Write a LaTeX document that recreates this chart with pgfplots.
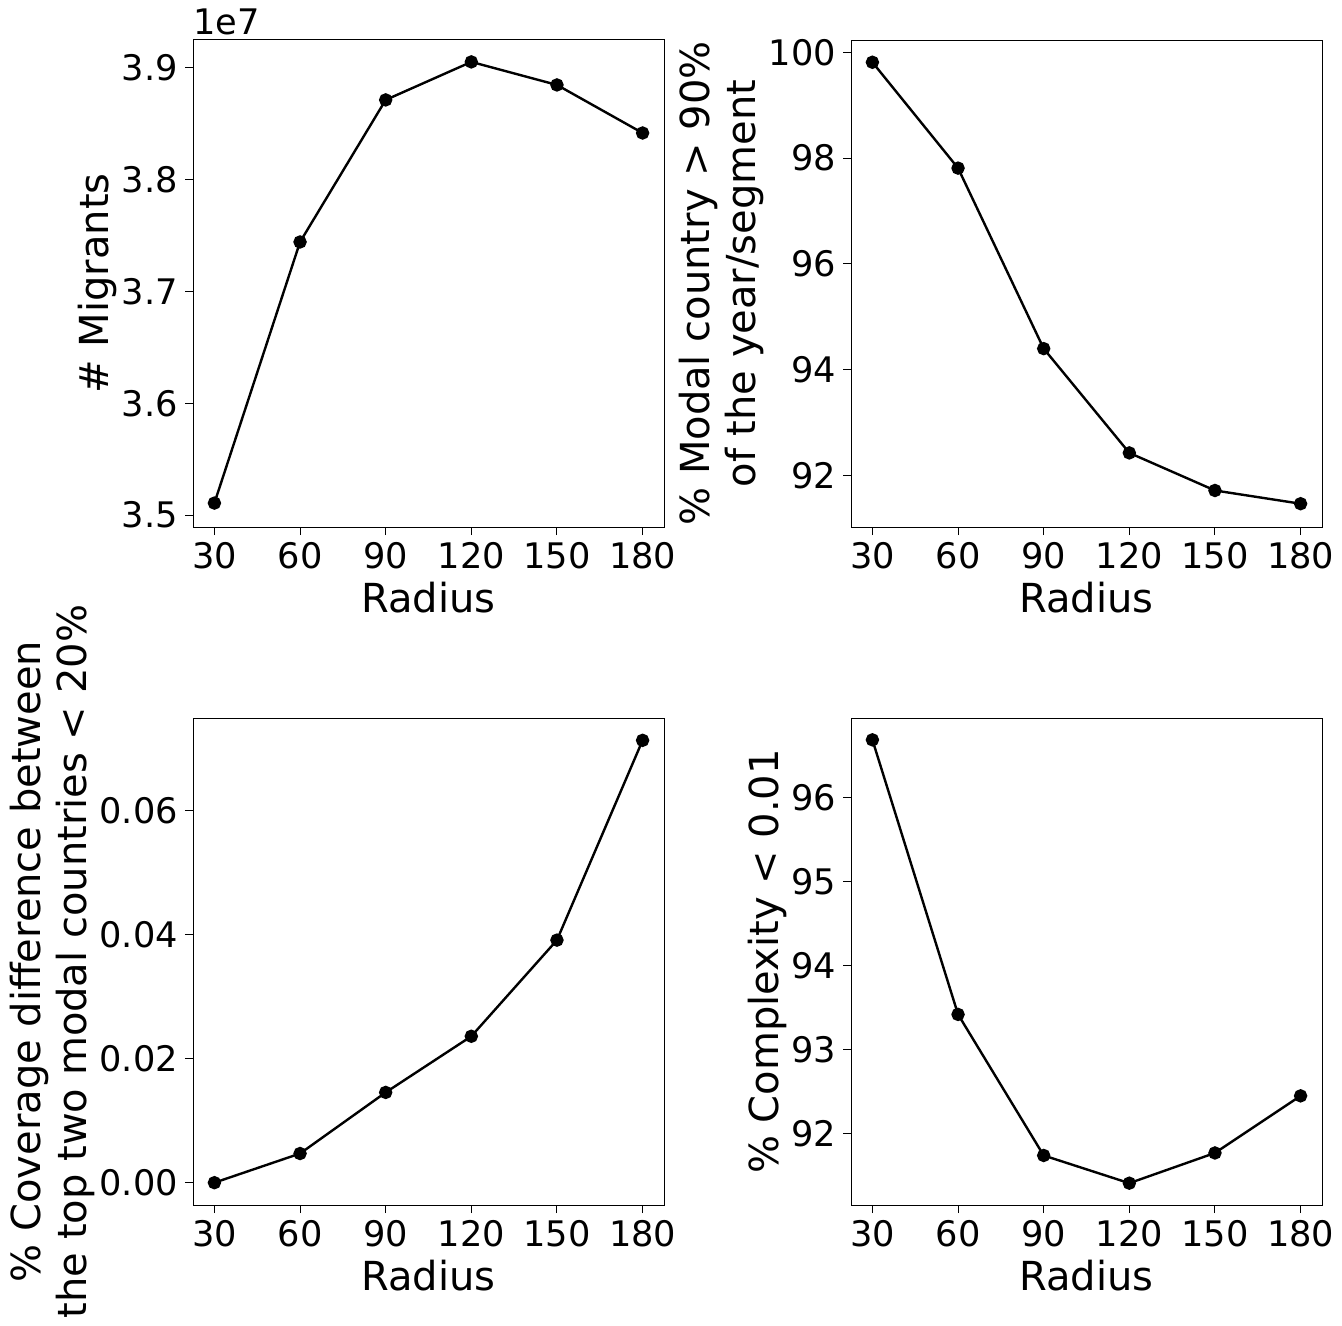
\documentclass[border=0pt]{standalone}
\usepackage{pgfplots}
\pgfplotsset{compat=1.18}
\usepackage{fontspec}
\setmainfont{DejaVu Sans}

\pgfplotsset{
  radius/.style={
    scale only axis, width=235.5bp, height=243.5bp,
    anchor=south west,
    xmin=22.5, xmax=187.5,
    xtick={30,60,90,120,150,180},
    tick pos=left, tick align=outside,
    major tick length=4bp,
    every tick/.style={black, line width=0.5bp},
    axis line style={line width=0.5bp},
    /pgf/number format/assume math mode=true,
    scaled y ticks=false,
    clip mode=individual,
    xlabel={Radius},
    label style={font=\fontsize{20bp}{23bp}\selectfont},
    ylabel style={align=center},
    ylabel shift=-4.5bp,
  },
  pt/.style={black, line width=1.2bp, mark=*, mark size=2.75bp, mark options={solid, fill=black}},
}

\begin{document}
\begin{tikzpicture}[font=\fontsize{17.6bp}{21bp}\selectfont]
\path[use as bounding box] (0,0) rectangle (671bp,-663bp);

% top left
\begin{axis}[radius, at={(96.5bp,-263.5bp)},
  ymin=3.4893, ymax=3.925,
  ytick={3.5,3.6,3.7,3.8,3.9}, yticklabels={3.5,3.6,3.7,3.8,3.9},
  ylabel={\# Migrants}]
\addplot[pt] coordinates {(30,3.5107) (60,3.7443) (90,3.8714) (120,3.9054) (150,3.8848) (180,3.8418)};
\node[anchor=base west, inner sep=0pt, yshift=2.5bp] at (rel axis cs:0,1) {1e7};
\end{axis}

% top right
\begin{axis}[radius, at={(425.5bp,-263.5bp)},
  ymin=91.03, ymax=100.23,
  ytick={92,94,96,98,100},
  ylabel={\% Modal country > 90\%\\of the year/segment}]
\addplot[pt] coordinates {(30,99.81) (60,97.81) (90,94.40) (120,92.43) (150,91.72) (180,91.47)};
\end{axis}

% bottom left
\begin{axis}[radius, at={(96.5bp,-602.5bp)},
  ymin=-0.0036, ymax=0.0749,
  ytick={0,0.02,0.04,0.06}, yticklabels={0.00,0.02,0.04,0.06},
  ylabel={\% Coverage difference between\\the top two modal countries < 20\%}]
\addplot[pt] coordinates {(30,0.0) (60,0.0047) (90,0.01455) (120,0.0236) (150,0.0391) (180,0.0713)};
\end{axis}

% bottom right
\begin{axis}[radius, at={(425.5bp,-602.5bp)},
  ymin=91.15, ymax=96.95,
  ytick={92,93,94,95,96},
  ylabel={\% Complexity < 0.01}]
\addplot[pt] coordinates {(30,96.69) (60,93.42) (90,91.74) (120,91.41) (150,91.77) (180,92.45)};
\end{axis}
\end{tikzpicture}
\end{document}
